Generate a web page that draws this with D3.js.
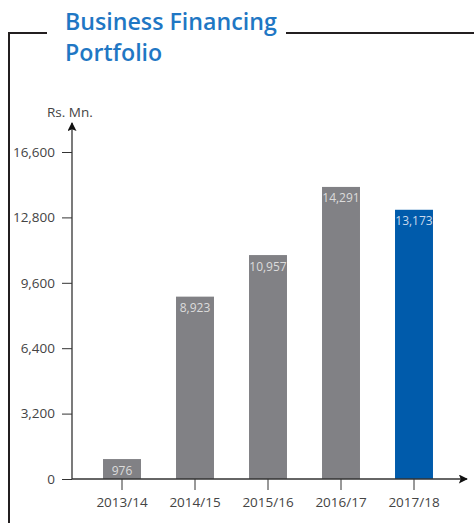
<!DOCTYPE html>
<html>
<head>
<meta charset="utf-8">
<script src="https://cdn.jsdelivr.net/npm/d3@7/dist/d3.min.js"></script>
<style>
  html, body { margin: 0; padding: 0; background: #fff; }
  svg { display: block; }
</style>
</head>
<body>
<svg id="chart" width="474" height="523"></svg>
<script>
// Business financing portfolio, Rs. Mn.
const years = ["2013/14", "2014/15", "2015/16", "2016/17", "2017/18"];
const portfolio = [976, 8923, 10957, 14291, 13173];
const yTickValues = [0, 3200, 6400, 9600, 12800, 16000];
const yTickLabels = ["0", "3,200", "6,400", "9,600", "12,800", "16,600"];
const titleLines = ["Business Financing", "Portfolio"];
const unitLabel = "Rs. Mn.";

const svg = d3.select("#chart");
const font = "'Open Sans', 'Noto Sans', sans-serif";

const x0 = 72, y0 = 479;
const x = d3.scaleBand()
  .domain(years)
  .range([85.5, 450.5])
  .paddingInner(0.48)
  .paddingOuter(0.24);
const y = d3.scaleLinear()
  .domain([0, 16000])
  .range([y0, 152]);

// Frame around the panel, broken by the title
const frame = svg.append("g")
  .attr("fill", "none")
  .attr("stroke", "#231f20")
  .attr("stroke-width", 2);
frame.append("path").attr("d", "M47,33 H9 V523");
frame.append("path").attr("d", "M286,33 H474");

// Title
svg.append("text")
  .attr("x", 65)
  .attr("font-family", font)
  .attr("font-weight", 600)
  .attr("font-size", 23.2)
  .attr("fill", "#1f77c4")
  .selectAll("tspan")
  .data(titleLines)
  .join("tspan")
  .attr("x", 65)
  .attr("y", (d, i) => 29.5 + i * 31)
  .text(d => d);

// Unit label
svg.append("text")
  .attr("x", 47)
  .attr("y", 117)
  .attr("font-family", font)
  .attr("font-size", 13.5)
  .attr("fill", "#444")
  .text(unitLabel);

// Arrowhead marker for axis lines
svg.append("defs").append("marker")
  .attr("id", "arrow")
  .attr("viewBox", "0 0 10 10")
  .attr("refX", 9)
  .attr("refY", 5)
  .attr("markerUnits", "userSpaceOnUse")
  .attr("markerWidth", 11)
  .attr("markerHeight", 9)
  .attr("orient", "auto")
  .append("path")
  .attr("d", "M0,0 L10,5 L0,10 L2,5 Z")
  .attr("fill", "#111");

// Bars
svg.append("g")
  .selectAll("rect")
  .data(portfolio)
  .join("rect")
  .attr("x", (d, i) => x(years[i]))
  .attr("y", d => y(d))
  .attr("width", x.bandwidth())
  .attr("height", d => y(0) - y(d))
  .attr("fill", (d, i) => i === portfolio.length - 1 ? "#005bab" : "#818185");

// Value labels inside the bars
svg.append("g")
  .selectAll("text")
  .data(portfolio)
  .join("text")
  .attr("x", (d, i) => x(years[i]) + x.bandwidth() / 2)
  .attr("y", d => y(d) + 15.5)
  .attr("text-anchor", "middle")
  .attr("font-family", font)
  .attr("font-size", 12)
  .attr("fill", (d, i) => i === portfolio.length - 1 ? "#c9d9ec" : "#dcdcdc")
  .text(d => d3.format(",")(d));

// Y axis
const yAxis = svg.append("g")
  .attr("transform", `translate(${x0},0)`)
  .call(d3.axisLeft(y)
    .tickValues(yTickValues)
    .tickFormat((d, i) => yTickLabels[i])
    .tickSize(10)
    .tickPadding(7));
yAxis.select(".domain").remove();
yAxis.selectAll(".tick line").attr("stroke", "#333");
yAxis.selectAll(".tick text")
  .attr("font-family", font)
  .attr("font-size", 13.5)
  .attr("fill", "#444");

// X axis
const xAxis = svg.append("g")
  .attr("transform", `translate(0,${y0})`)
  .call(d3.axisBottom(x)
    .tickSize(11)
    .tickPadding(7));
xAxis.select(".domain").remove();
xAxis.selectAll(".tick line").attr("stroke", "#333");
xAxis.selectAll(".tick text")
  .attr("font-family", font)
  .attr("font-size", 13.5)
  .attr("fill", "#444");

// Axis lines with arrowheads
svg.append("line")
  .attr("x1", x0).attr("y1", y0)
  .attr("x2", x0).attr("y2", 123)
  .attr("stroke", "#333").attr("stroke-width", 1.3)
  .attr("marker-end", "url(#arrow)");
svg.append("line")
  .attr("x1", x0).attr("y1", y0)
  .attr("x2", 467).attr("y2", y0)
  .attr("stroke", "#333").attr("stroke-width", 1.3)
  .attr("marker-end", "url(#arrow)");
</script>
</body>
</html>
